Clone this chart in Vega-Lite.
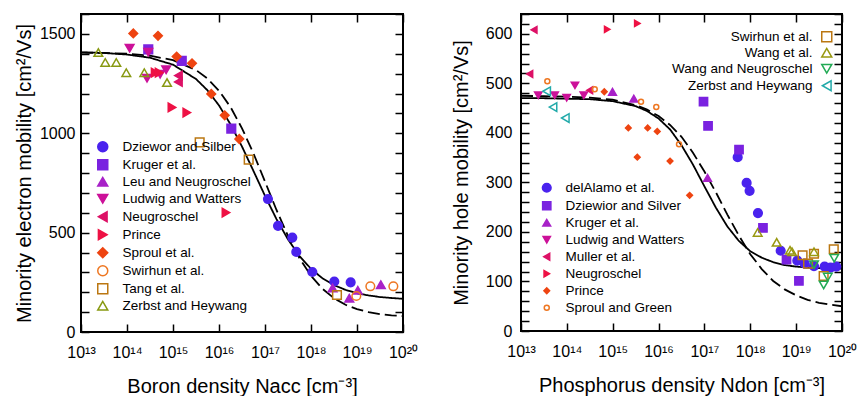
{
  "$schema": "https://vega.github.io/schema/vega-lite/v6.json",
  "padding": {"left": 13, "top": 5, "right": 0, "bottom": 0},
  "spacing": 31,
  "config": {
    "font": "Liberation Sans",
    "view": {"stroke": "#000", "strokeWidth": 2},
    "axis": {"domain": false, "grid": false, "tickColor": "#000", "tickWidth": 1.5, "tickSize": -8, "labelColor": "#000", "titleColor": "#000", "titleFontWeight": "normal", "labelFontSize": 16, "titleFontSize": 20, "labelOverlap": false, "labelFlush": false, "labelBound": false},
    "legend": {"padding": 0, "titlePadding": 0, "labelColor": "#000", "labelFontSize": 13.5, "symbolStrokeWidth": 1.5}
  },
  "datasets": {
    "curvesLeft": [
      {"N": 1e13, "mobility": 1407, "model": "solid"}, {"N": 3.162e13, "mobility": 1404, "model": "solid"}, {"N": 1e14, "mobility": 1396, "model": "solid"}, {"N": 3.162e14, "mobility": 1380, "model": "solid"}, {"N": 1e15, "mobility": 1345, "model": "solid"}, {"N": 3.162e15, "mobility": 1273, "model": "solid"}, {"N": 5.623e15, "mobility": 1216, "model": "solid"}, {"N": 1e16, "mobility": 1140, "model": "solid"}, {"N": 1.778e16, "mobility": 1045, "model": "solid"}, {"N": 3.162e16, "mobility": 933, "model": "solid"}, {"N": 5.623e16, "mobility": 810, "model": "solid"}, {"N": 1e17, "mobility": 685, "model": "solid"}, {"N": 1.778e17, "mobility": 568, "model": "solid"}, {"N": 3.162e17, "mobility": 466, "model": "solid"}, {"N": 5.623e17, "mobility": 382, "model": "solid"}, {"N": 1e18, "mobility": 318, "model": "solid"}, {"N": 1.778e18, "mobility": 270, "model": "solid"}, {"N": 3.162e18, "mobility": 236, "model": "solid"}, {"N": 5.623e18, "mobility": 212, "model": "solid"}, {"N": 1e19, "mobility": 195, "model": "solid"}, {"N": 1.778e19, "mobility": 184, "model": "solid"}, {"N": 3.162e19, "mobility": 176, "model": "solid"}, {"N": 5.623e19, "mobility": 171, "model": "solid"}, {"N": 1e20, "mobility": 167, "model": "solid"},
      {"N": 1e13, "mobility": 1406, "model": "dashed"}, {"N": 3.162e13, "mobility": 1404, "model": "dashed"}, {"N": 1e14, "mobility": 1400, "model": "dashed"}, {"N": 3.162e14, "mobility": 1390, "model": "dashed"}, {"N": 1e15, "mobility": 1368, "model": "dashed"}, {"N": 3.162e15, "mobility": 1318, "model": "dashed"}, {"N": 5.623e15, "mobility": 1275, "model": "dashed"}, {"N": 1e16, "mobility": 1214, "model": "dashed"}, {"N": 1.778e16, "mobility": 1132, "model": "dashed"}, {"N": 3.162e16, "mobility": 1025, "model": "dashed"}, {"N": 5.623e16, "mobility": 898, "model": "dashed"}, {"N": 1e17, "mobility": 757, "model": "dashed"}, {"N": 1.778e17, "mobility": 614, "model": "dashed"}, {"N": 3.162e17, "mobility": 483, "model": "dashed"}, {"N": 5.623e17, "mobility": 371, "model": "dashed"}, {"N": 1e18, "mobility": 283, "model": "dashed"}, {"N": 1.778e18, "mobility": 217, "model": "dashed"}, {"N": 3.162e18, "mobility": 170, "model": "dashed"}, {"N": 5.623e18, "mobility": 137, "model": "dashed"}, {"N": 1e19, "mobility": 115, "model": "dashed"}, {"N": 1.778e19, "mobility": 100, "model": "dashed"}, {"N": 3.162e19, "mobility": 90, "model": "dashed"}, {"N": 5.623e19, "mobility": 84, "model": "dashed"}, {"N": 1e20, "mobility": 80, "model": "dashed"}
    ],
    "curvesRight": [
      {"N": 1e13, "mobility": 470, "model": "solid"}, {"N": 3.162e13, "mobility": 470, "model": "solid"}, {"N": 1e14, "mobility": 469, "model": "solid"}, {"N": 3.162e14, "mobility": 468, "model": "solid"}, {"N": 1e15, "mobility": 464, "model": "solid"}, {"N": 3.162e15, "mobility": 454, "model": "solid"}, {"N": 5.623e15, "mobility": 444, "model": "solid"}, {"N": 1e16, "mobility": 429, "model": "solid"}, {"N": 1.778e16, "mobility": 407, "model": "solid"}, {"N": 3.162e16, "mobility": 375, "model": "solid"}, {"N": 5.623e16, "mobility": 336, "model": "solid"}, {"N": 1e17, "mobility": 292, "model": "solid"}, {"N": 1.778e17, "mobility": 249, "model": "solid"}, {"N": 3.162e17, "mobility": 211, "model": "solid"}, {"N": 5.623e17, "mobility": 182, "model": "solid"}, {"N": 1e18, "mobility": 161, "model": "solid"}, {"N": 1.778e18, "mobility": 148, "model": "solid"}, {"N": 3.162e18, "mobility": 139, "model": "solid"}, {"N": 5.623e18, "mobility": 133, "model": "solid"}, {"N": 1e19, "mobility": 130, "model": "solid"}, {"N": 1.778e19, "mobility": 128, "model": "solid"}, {"N": 3.162e19, "mobility": 127, "model": "solid"}, {"N": 5.623e19, "mobility": 126, "model": "solid"}, {"N": 1e20, "mobility": 126, "model": "solid"},
      {"N": 1e13, "mobility": 475, "model": "dashed"}, {"N": 3.162e13, "mobility": 474, "model": "dashed"}, {"N": 1e14, "mobility": 473, "model": "dashed"}, {"N": 3.162e14, "mobility": 471, "model": "dashed"}, {"N": 1e15, "mobility": 467, "model": "dashed"}, {"N": 3.162e15, "mobility": 456, "model": "dashed"}, {"N": 5.623e15, "mobility": 447, "model": "dashed"}, {"N": 1e16, "mobility": 434, "model": "dashed"}, {"N": 1.778e16, "mobility": 416, "model": "dashed"}, {"N": 3.162e16, "mobility": 392, "model": "dashed"}, {"N": 5.623e16, "mobility": 360, "model": "dashed"}, {"N": 1e17, "mobility": 322, "model": "dashed"}, {"N": 1.778e17, "mobility": 280, "model": "dashed"}, {"N": 3.162e17, "mobility": 235, "model": "dashed"}, {"N": 5.623e17, "mobility": 193, "model": "dashed"}, {"N": 1e18, "mobility": 155, "model": "dashed"}, {"N": 1.778e18, "mobility": 125, "model": "dashed"}, {"N": 3.162e18, "mobility": 101, "model": "dashed"}, {"N": 5.623e18, "mobility": 84, "model": "dashed"}, {"N": 1e19, "mobility": 72, "model": "dashed"}, {"N": 1.778e19, "mobility": 63, "model": "dashed"}, {"N": 3.162e19, "mobility": 57, "model": "dashed"}, {"N": 5.623e19, "mobility": 53, "model": "dashed"}, {"N": 1e20, "mobility": 50, "model": "dashed"}
    ],
    "pointsLeft": [
      {"source": "Dziewor and Silber", "N": 1.16e17, "mobility": 669}, {"source": "Dziewor and Silber", "N": 1.92e17, "mobility": 534}, {"source": "Dziewor and Silber", "N": 3.92e17, "mobility": 475}, {"source": "Dziewor and Silber", "N": 4.79e17, "mobility": 403}, {"source": "Dziewor and Silber", "N": 1.07e18, "mobility": 302}, {"source": "Dziewor and Silber", "N": 3.21e18, "mobility": 254}, {"source": "Dziewor and Silber", "N": 7.28e18, "mobility": 250},
      {"source": "Kruger et al.", "N": 1.55e15, "mobility": 1364}, {"source": "Kruger et al.", "N": 1.85e16, "mobility": 1023}, {"source": "Kruger et al.", "N": 2.9e14, "mobility": 1422},
      {"source": "Leu and Neugroschel", "N": 2.95e18, "mobility": 222}, {"source": "Leu and Neugroschel", "N": 6.8e18, "mobility": 170}, {"source": "Leu and Neugroschel", "N": 1.04e19, "mobility": 210}, {"source": "Leu and Neugroschel", "N": 3.3e19, "mobility": 238},
      {"source": "Ludwig and Watters", "N": 1.14e14, "mobility": 1428}, {"source": "Ludwig and Watters", "N": 2.9e14, "mobility": 1408}, {"source": "Ludwig and Watters", "N": 2.72e14, "mobility": 1277}, {"source": "Ludwig and Watters", "N": 5.25e14, "mobility": 1297}, {"source": "Ludwig and Watters", "N": 7.1e14, "mobility": 1319},
      {"source": "Neugroschel", "N": 1.31e15, "mobility": 1290}, {"source": "Neugroschel", "N": 1.31e15, "mobility": 1258},
      {"source": "Prince", "N": 4.1e14, "mobility": 1305}, {"source": "Prince", "N": 5.0e14, "mobility": 1305}, {"source": "Prince", "N": 9.5e14, "mobility": 1130}, {"source": "Prince", "N": 2.0e15, "mobility": 1104}, {"source": "Prince", "N": 1.42e16, "mobility": 601},
      {"source": "Sproul et al.", "N": 1.37e14, "mobility": 1502}, {"source": "Sproul et al.", "N": 4.72e14, "mobility": 1490}, {"source": "Sproul et al.", "N": 1.2e15, "mobility": 1386}, {"source": "Sproul et al.", "N": 2.59e15, "mobility": 1352}, {"source": "Sproul et al.", "N": 6.8e15, "mobility": 1198}, {"source": "Sproul et al.", "N": 1.33e16, "mobility": 1090}, {"source": "Sproul et al.", "N": 2.76e16, "mobility": 971},
      {"source": "Swirhun et al.", "N": 9.66e18, "mobility": 181}, {"source": "Swirhun et al.", "N": 1.95e19, "mobility": 230}, {"source": "Swirhun et al.", "N": 6.17e19, "mobility": 230},
      {"source": "Tang et al.", "N": 3.8e15, "mobility": 954}, {"source": "Tang et al.", "N": 4.42e16, "mobility": 867}, {"source": "Tang et al.", "N": 3.67e18, "mobility": 186},
      {"source": "Zerbst and Heywang", "N": 2.38e13, "mobility": 1406}, {"source": "Zerbst and Heywang", "N": 3.37e13, "mobility": 1356}, {"source": "Zerbst and Heywang", "N": 5.85e13, "mobility": 1356}, {"source": "Zerbst and Heywang", "N": 9.66e13, "mobility": 1305}, {"source": "Zerbst and Heywang", "N": 2.38e14, "mobility": 1305}, {"source": "Zerbst and Heywang", "N": 7.41e14, "mobility": 1255}
    ],
    "pointsRightA": [
      {"source": "delAlamo et al.", "N": 5.31e17, "mobility": 351}, {"source": "delAlamo et al.", "N": 8.32e17, "mobility": 299}, {"source": "delAlamo et al.", "N": 9.66e17, "mobility": 283}, {"source": "delAlamo et al.", "N": 1.47e18, "mobility": 238}, {"source": "delAlamo et al.", "N": 4.6e18, "mobility": 162}, {"source": "delAlamo et al.", "N": 1.06e19, "mobility": 142}, {"source": "delAlamo et al.", "N": 1.54e19, "mobility": 136}, {"source": "delAlamo et al.", "N": 2.45e19, "mobility": 131}, {"source": "delAlamo et al.", "N": 4.17e19, "mobility": 130}, {"source": "delAlamo et al.", "N": 5.62e19, "mobility": 128}, {"source": "delAlamo et al.", "N": 7.5e19, "mobility": 130},
      {"source": "Dziewior and Silver", "N": 9.55e16, "mobility": 463}, {"source": "Dziewior and Silver", "N": 1.2e17, "mobility": 414}, {"source": "Dziewior and Silver", "N": 5.68e17, "mobility": 366}, {"source": "Dziewior and Silver", "N": 1.89e18, "mobility": 208}, {"source": "Dziewior and Silver", "N": 6.17e18, "mobility": 144}, {"source": "Dziewior and Silver", "N": 1.15e19, "mobility": 101},
      {"source": "Kruger et al.", "N": 9.9e14, "mobility": 483}, {"source": "Kruger et al.", "N": 2.88e15, "mobility": 469}, {"source": "Kruger et al.", "N": 1.17e17, "mobility": 309},
      {"source": "Ludwig and Watters", "N": 2.38e13, "mobility": 476}, {"source": "Ludwig and Watters", "N": 5.42e13, "mobility": 476}, {"source": "Ludwig and Watters", "N": 9.9e13, "mobility": 471}, {"source": "Ludwig and Watters", "N": 1.5e14, "mobility": 496}, {"source": "Ludwig and Watters", "N": 2.34e14, "mobility": 476},
      {"source": "Muller et al.", "N": 1.92e13, "mobility": 608}, {"source": "Muller et al.", "N": 1.55e13, "mobility": 519}, {"source": "Muller et al.", "N": 3.14e14, "mobility": 486},
      {"source": "Neugroschel", "N": 7.59e14, "mobility": 609}, {"source": "Neugroschel", "N": 3.44e15, "mobility": 621},
      {"source": "Prince", "N": 6.55e14, "mobility": 483}, {"source": "Prince", "N": 2.19e15, "mobility": 410}, {"source": "Prince", "N": 5.78e15, "mobility": 410}, {"source": "Prince", "N": 9.38e15, "mobility": 403}, {"source": "Prince", "N": 3.44e15, "mobility": 351}, {"source": "Prince", "N": 1.78e16, "mobility": 343}, {"source": "Prince", "N": 4.76e16, "mobility": 274},
      {"source": "Sproul and Green", "N": 3.75e13, "mobility": 504}, {"source": "Sproul and Green", "N": 4.05e14, "mobility": 488}, {"source": "Sproul and Green", "N": 4.14e15, "mobility": 463}, {"source": "Sproul and Green", "N": 8.91e15, "mobility": 452}, {"source": "Sproul and Green", "N": 2.79e16, "mobility": 377}
    ],
    "pointsRightB": [
      {"source": "Swirhun et al.", "N": 1.38e19, "mobility": 153}, {"source": "Swirhun et al.", "N": 1.82e19, "mobility": 136}, {"source": "Swirhun et al.", "N": 2.45e19, "mobility": 156}, {"source": "Swirhun et al.", "N": 3.98e19, "mobility": 111}, {"source": "Swirhun et al.", "N": 6.61e19, "mobility": 165},
      {"source": "Wang et al.", "N": 1.45e18, "mobility": 199}, {"source": "Wang et al.", "N": 3.76e18, "mobility": 179}, {"source": "Wang et al.", "N": 7.35e18, "mobility": 163}, {"source": "Wang et al.", "N": 8.13e18, "mobility": 160}, {"source": "Wang et al.", "N": 2.45e19, "mobility": 160},
      {"source": "Wang and Neugroschel", "N": 2.45e19, "mobility": 134}, {"source": "Wang and Neugroschel", "N": 3.98e19, "mobility": 93}, {"source": "Wang and Neugroschel", "N": 4.9e19, "mobility": 109}, {"source": "Wang and Neugroschel", "N": 6.76e19, "mobility": 147},
      {"source": "Zerbst and Heywang", "N": 3.63e13, "mobility": 484}, {"source": "Zerbst and Heywang", "N": 4.99e13, "mobility": 452}, {"source": "Zerbst and Heywang", "N": 9.25e13, "mobility": 430}
    ]
  },
  "hconcat": [
    {
      "width": 322,
      "height": 318,
      "layer": [
        {
          "data": {"name": "curvesLeft"},
          "mark": {"type": "line", "color": "#000", "strokeWidth": 1.8, "clip": true},
          "encoding": {
            "x": {"field": "N", "type": "quantitative", "scale": {"type": "log", "domain": [1e13, 1e20], "nice": false},
              "axis": {"orient": "bottom", "values": [1e13, 1e14, 1e15, 1e16, 1e17, 1e18, 1e19, 1e20], "labelExpr": "'10' + (datum.value < 3e13 ? '¹³' : datum.value < 3e14 ? '¹⁴' : datum.value < 3e15 ? '¹⁵' : datum.value < 3e16 ? '¹⁶' : datum.value < 3e17 ? '¹⁷' : datum.value < 3e18 ? '¹⁸' : datum.value < 3e19 ? '¹⁹' : '²⁰')", "labelFontSize": 16, "labelPadding": 20, "title": "Boron density Nacc [cm⁻³]", "titlePadding": 16}},
            "y": {"field": "mobility", "type": "quantitative", "scale": {"domain": [0, 1600], "nice": false},
              "axis": {"orient": "left", "values": [0, 100, 200, 300, 400, 500, 600, 700, 800, 900, 1000, 1100, 1200, 1300, 1400, 1500, 1600], "format": "d", "labelExpr": "datum.value % 500 === 0 ? datum.label : ''", "labelPadding": 14, "title": "Minority electron mobility  [cm²/Vs]", "titlePadding": 5}},
            "strokeDash": {"field": "model", "type": "nominal", "scale": {"domain": ["solid", "dashed"], "range": [[1, 0], [12, 5]]}, "legend": null}
          }
        },
        {
          "data": {"name": "pointsLeft"},
          "mark": {"type": "point", "opacity": 1, "strokeWidth": 1.5, "size": 75},
          "encoding": {
            "x": {"field": "N", "type": "quantitative", "scale": {"type": "log", "domain": [1e13, 1e20], "nice": false},
              "axis": {"orient": "top", "values": [1e13, 1e14, 1e15, 1e16, 1e17, 1e18, 1e19, 1e20], "labels": false, "title": null}},
            "y": {"field": "mobility", "type": "quantitative", "scale": {"domain": [0, 1600], "nice": false},
              "axis": {"orient": "right", "values": [0, 100, 200, 300, 400, 500, 600, 700, 800, 900, 1000, 1100, 1200, 1300, 1400, 1500, 1600], "labels": false, "title": null}},
            "shape": {"field": "source", "type": "nominal",
              "scale": {"domain": ["Dziewor and Silber", "Kruger et al.", "Leu and Neugroschel", "Ludwig and Watters", "Neugroschel", "Prince", "Sproul et al.", "Swirhun et al.", "Tang et al.", "Zerbst and Heywang"],
                "range": ["circle", "square", "triangle-up", "triangle-down", "triangle-left", "triangle-right", "diamond", "circle", "square", "triangle-up"]},
              "legend": {"orient": "none", "legendX": 15, "legendY": 126, "title": null, "rowPadding": 1, "labelOffset": 13}},
            "fill": {"field": "source", "type": "nominal",
              "scale": {"domain": ["Dziewor and Silber", "Kruger et al.", "Leu and Neugroschel", "Ludwig and Watters", "Neugroschel", "Prince", "Sproul et al.", "Swirhun et al.", "Tang et al.", "Zerbst and Heywang"],
                "range": ["#4a22ee", "#7a22e0", "#a822c8", "#cc1199", "#dd1166", "#ee1144", "#ee4411", "transparent", "transparent", "transparent"]},
              "legend": {"orient": "none", "legendX": 15, "legendY": 126, "title": null, "rowPadding": 1, "labelOffset": 13}},
            "stroke": {"field": "source", "type": "nominal",
              "scale": {"domain": ["Dziewor and Silber", "Kruger et al.", "Leu and Neugroschel", "Ludwig and Watters", "Neugroschel", "Prince", "Sproul et al.", "Swirhun et al.", "Tang et al.", "Zerbst and Heywang"],
                "range": ["#4a22ee", "#7a22e0", "#a822c8", "#cc1199", "#dd1166", "#ee1144", "#ee4411", "#ee7722", "#bb7711", "#889911"]},
              "legend": {"orient": "none", "legendX": 15, "legendY": 126, "title": null, "rowPadding": 1, "labelOffset": 13}}
          }
        }
      ],
      "resolve": {"axis": {"x": "independent", "y": "independent"}}
    },
    {
      "width": 321,
      "height": 317,
      "layer": [
        {
          "data": {"name": "curvesRight"},
          "mark": {"type": "line", "color": "#000", "strokeWidth": 1.8, "clip": true},
          "encoding": {
            "x": {"field": "N", "type": "quantitative", "scale": {"type": "log", "domain": [1e13, 1e20], "nice": false},
              "axis": {"orient": "bottom", "values": [1e13, 1e14, 1e15, 1e16, 1e17, 1e18, 1e19, 1e20], "labelExpr": "'10' + (datum.value < 3e13 ? '¹³' : datum.value < 3e14 ? '¹⁴' : datum.value < 3e15 ? '¹⁵' : datum.value < 3e16 ? '¹⁶' : datum.value < 3e17 ? '¹⁷' : datum.value < 3e18 ? '¹⁸' : datum.value < 3e19 ? '¹⁹' : '²⁰')", "labelFontSize": 16, "labelPadding": 20, "title": "Phosphorus density Ndon [cm⁻³]", "titlePadding": 16}},
            "y": {"field": "mobility", "type": "quantitative", "scale": {"domain": [0, 640], "nice": false},
              "axis": {"orient": "left", "values": [0, 20, 40, 60, 80, 100, 120, 140, 160, 180, 200, 220, 240, 260, 280, 300, 320, 340, 360, 380, 400, 420, 440, 460, 480, 500, 520, 540, 560, 580, 600, 620, 640], "format": "d", "labelExpr": "datum.value % 100 === 0 ? datum.label : ''", "labelPadding": 17, "title": "Minority hole mobility  [cm²/Vs]", "titlePadding": 14}},
            "strokeDash": {"field": "model", "type": "nominal", "scale": {"domain": ["solid", "dashed"], "range": [[1, 0], [12, 5]]}, "legend": null}
          }
        },
        {
          "data": {"name": "pointsRightA"},
          "mark": {"type": "point", "opacity": 1, "strokeWidth": 1.5},
          "encoding": {
            "x": {"field": "N", "type": "quantitative", "scale": {"type": "log", "domain": [1e13, 1e20], "nice": false},
              "axis": {"orient": "top", "values": [1e13, 1e14, 1e15, 1e16, 1e17, 1e18, 1e19, 1e20], "labels": false, "title": null}},
            "y": {"field": "mobility", "type": "quantitative", "scale": {"domain": [0, 640], "nice": false},
              "axis": {"orient": "right", "values": [0, 20, 40, 60, 80, 100, 120, 140, 160, 180, 200, 220, 240, 260, 280, 300, 320, 340, 360, 380, 400, 420, 440, 460, 480, 500, 520, 540, 560, 580, 600, 620, 640], "labels": false, "title": null}},
            "shape": {"field": "source", "type": "nominal",
              "scale": {"domain": ["delAlamo et al.", "Dziewior and Silver", "Kruger et al.", "Ludwig and Watters", "Muller et al.", "Neugroschel", "Prince", "Sproul and Green"],
                "range": ["circle", "square", "triangle-up", "triangle-down", "triangle-left", "triangle-right", "diamond", "circle"]},
              "legend": {"orient": "none", "legendX": 19, "legendY": 167, "title": null, "rowPadding": 2, "labelOffset": 12}},
            "fill": {"field": "source", "type": "nominal",
              "scale": {"domain": ["delAlamo et al.", "Dziewior and Silver", "Kruger et al.", "Ludwig and Watters", "Muller et al.", "Neugroschel", "Prince", "Sproul and Green"],
                "range": ["#4a22ee", "#7a22e0", "#a822c8", "#cc1199", "#dd1166", "#ee1144", "#ee4411", "transparent"]},
              "legend": {"orient": "none", "legendX": 19, "legendY": 167, "title": null, "rowPadding": 2, "labelOffset": 12}},
            "stroke": {"field": "source", "type": "nominal",
              "scale": {"domain": ["delAlamo et al.", "Dziewior and Silver", "Kruger et al.", "Ludwig and Watters", "Muller et al.", "Neugroschel", "Prince", "Sproul and Green"],
                "range": ["#4a22ee", "#7a22e0", "#a822c8", "#cc1199", "#dd1166", "#ee1144", "#ee4411", "#ee7722"]},
              "legend": {"orient": "none", "legendX": 19, "legendY": 167, "title": null, "rowPadding": 2, "labelOffset": 12}},
            "size": {"field": "source", "type": "nominal",
              "scale": {"domain": ["delAlamo et al.", "Dziewior and Silver", "Kruger et al.", "Ludwig and Watters", "Muller et al.", "Neugroschel", "Prince", "Sproul and Green"],
                "range": [75, 25, 55, 75, 75, 75, 75, 75]},
              "legend": {"orient": "none", "legendX": 19, "legendY": 167, "title": null, "rowPadding": 2, "labelOffset": 12}}
          }
        },
        {
          "data": {"name": "pointsRightB"},
          "mark": {"type": "point", "opacity": 1, "strokeWidth": 1.5, "size": 75},
          "encoding": {
            "x": {"field": "N", "type": "quantitative", "scale": {"type": "log", "domain": [1e13, 1e20], "nice": false}, "axis": null},
            "y": {"field": "mobility", "type": "quantitative", "scale": {"domain": [0, 640], "nice": false}, "axis": null},
            "shape": {"field": "source", "type": "nominal",
              "scale": {"domain": ["Swirhun et al.", "Wang et al.", "Wang and Neugroschel", "Zerbst and Heywang"], "range": ["square", "triangle-up", "triangle-down", "triangle-left"]},
              "legend": {"orient": "none", "legendX": 299, "legendY": 16, "title": null, "rowPadding": 0, "labelOffset": -21, "labelAlign": "right"}},
            "fill": {"field": "source", "type": "nominal",
              "scale": {"domain": ["Swirhun et al.", "Wang et al.", "Wang and Neugroschel", "Zerbst and Heywang"], "range": ["transparent", "transparent", "transparent", "transparent"]},
              "legend": {"orient": "none", "legendX": 299, "legendY": 16, "title": null, "rowPadding": 0, "labelOffset": -21, "labelAlign": "right"}},
            "stroke": {"field": "source", "type": "nominal",
              "scale": {"domain": ["Swirhun et al.", "Wang et al.", "Wang and Neugroschel", "Zerbst and Heywang"], "range": ["#bb7711", "#999911", "#22aa55", "#22aaaa"]},
              "legend": {"orient": "none", "legendX": 299, "legendY": 16, "title": null, "rowPadding": 0, "labelOffset": -21, "labelAlign": "right"}}
          }
        }
      ],
      "resolve": {"scale": {"fill": "independent", "stroke": "independent", "shape": "independent", "size": "independent"}, "axis": {"x": "independent", "y": "independent"}}
    }
  ]
}
